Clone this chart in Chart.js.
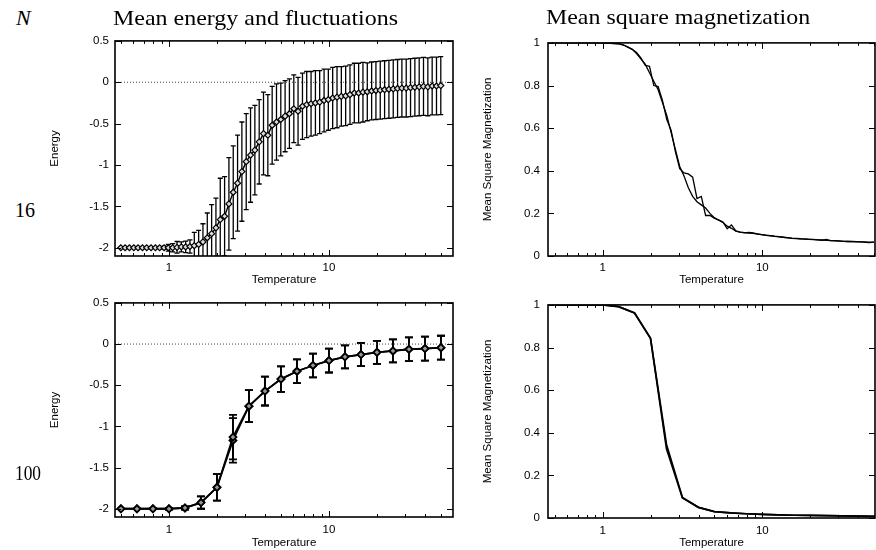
<!DOCTYPE html>
<html>
<head>
<meta charset="utf-8">
<script src="https://cdn.jsdelivr.net/npm/chart.js@4.4.1/dist/chart.umd.min.js"></script>
<style>
html, body { margin: 0; padding: 0; background: #fff; }
body { width: 876px; height: 550px; position: relative; overflow: hidden; }
canvas { position: absolute; }
.lbl { position: absolute; font-family: 'Liberation Serif', 'Times New Roman', serif; color: #000;
       white-space: nowrap; line-height: 1; transform-origin: 0 0; }
</style>
</head>
<body>
<canvas id="tl" width="420" height="262" style="left:40px;top:28px"></canvas>
<canvas id="tr" width="416" height="262" style="left:460px;top:28px"></canvas>
<canvas id="bl" width="420" height="260" style="left:40px;top:290px"></canvas>
<canvas id="br" width="416" height="260" style="left:460px;top:290px"></canvas>

<span class="lbl" style="left:16px;top:7px;font-size:22px;font-style:italic">N</span>
<span class="lbl" data-w="285" style="left:113px;top:8px;font-size:21px">Mean energy and fluctuations</span>
<span class="lbl" data-w="264" style="left:546px;top:7px;font-size:21px">Mean square magnetization</span>
<span class="lbl" data-w="20" style="left:15px;top:200px;font-size:20px">16</span>
<span class="lbl" data-w="26" style="left:15px;top:463px;font-size:20px">100</span>

<script>
// --- N = 16 : many temperatures ---
const tempsN16 = [0.5, 0.532, 0.566, 0.603, 0.641, 0.683, 0.726, 0.773, 0.823, 0.875, 0.932, 0.991,
    1.055, 1.123, 1.195, 1.272, 1.353, 1.44, 1.533, 1.631, 1.736, 1.848, 1.966, 2.092, 2.227, 2.37,
    2.522, 2.684, 2.856, 3.04, 3.235, 3.443, 3.664, 3.899, 4.15, 4.416, 4.7, 5.0, 5.32, 5.66, 6.03,
    6.41, 6.83, 7.26, 7.73, 8.23, 8.75, 9.32, 9.91, 10.55, 11.23, 11.95, 12.72, 13.53, 14.4, 15.33,
    16.31, 17.36, 18.48, 19.66, 20.92, 22.27, 23.7, 25.22, 26.84, 28.56, 30.4, 32.35, 34.43, 36.64,
    38.99, 41.5, 44.16, 47.0, 50.0];

const energyN16 = [-2, -2, -2, -2, -2, -2, -2, -2, -2, -2, -2, -2,
    -2, -1.995, -1.99, -1.99, -1.985, -1.975, -1.96, -1.93, -1.88, -1.83, -1.76, -1.66, -1.62, -1.47,
    -1.33, -1.22, -1.08, -0.96, -0.88, -0.82, -0.72, -0.62, -0.64, -0.52, -0.48, -0.45, -0.41, -0.38, -0.32,
    -0.35, -0.29, -0.27, -0.26, -0.25, -0.24, -0.22, -0.21, -0.19, -0.18, -0.17, -0.165, -0.15, -0.13, -0.13,
    -0.12, -0.115, -0.105, -0.1, -0.095, -0.09, -0.085, -0.08, -0.075, -0.07, -0.07, -0.065, -0.06, -0.055,
    -0.05, -0.055, -0.045, -0.045, -0.04];

const energyErrN16 = [0.005, 0.005, 0.005, 0.005, 0.005, 0.005, 0.005, 0.005, 0.005, 0.005, 0.02, 0.04,
    0.05, 0.07, 0.06, 0.07, 0.08, 0.16, 0.17, 0.22, 0.3, 0.35, 0.36, 0.5, 0.48, 0.56,
    0.56, 0.58, 0.6, 0.58, 0.57, 0.54, 0.51, 0.5, 0.49, 0.47, 0.46, 0.44, 0.43, 0.42, 0.41,
    0.41, 0.4, 0.4, 0.39, 0.39, 0.38, 0.38, 0.37, 0.37, 0.37, 0.36, 0.36, 0.36, 0.36, 0.36,
    0.36, 0.35, 0.35, 0.35, 0.35, 0.35, 0.35, 0.35, 0.35, 0.35, 0.35, 0.35, 0.35, 0.35,
    0.35, 0.35, 0.35, 0.35, 0.35];

const magN16a = [1, 1, 1, 1, 1, 1, 1, 1, 1, 1, 1, 1,
    0.999, 0.998, 0.997, 0.995, 0.99, 0.98, 0.97, 0.95, 0.925, 0.9, 0.86, 0.82, 0.78, 0.72,
    0.66, 0.58, 0.5, 0.42, 0.375, 0.32, 0.28, 0.255, 0.24, 0.225, 0.2, 0.18, 0.168, 0.158, 0.14,
    0.13, 0.117, 0.112, 0.11, 0.108, 0.106, 0.103, 0.1, 0.097, 0.095, 0.092, 0.09, 0.088, 0.085, 0.083,
    0.082, 0.08, 0.079, 0.078, 0.077, 0.076, 0.075, 0.073, 0.072, 0.071, 0.07, 0.069, 0.068, 0.068,
    0.067, 0.066, 0.066, 0.065, 0.065];

const magN16b = [1, 1, 1, 1, 1, 1, 1, 1, 1, 1, 1, 1,
    0.999, 0.998, 0.997, 0.995, 0.99, 0.98, 0.97, 0.955, 0.93, 0.895, 0.89, 0.8, 0.795, 0.73,
    0.64, 0.59, 0.49, 0.41, 0.39, 0.385, 0.37, 0.27, 0.28, 0.19, 0.19, 0.178, 0.17, 0.16, 0.128,
    0.146, 0.118, 0.112, 0.109, 0.111, 0.108, 0.104, 0.1, 0.098, 0.096, 0.093, 0.091, 0.088, 0.086, 0.084,
    0.083, 0.081, 0.08, 0.078, 0.078, 0.076, 0.074, 0.078, 0.072, 0.072, 0.071, 0.069, 0.068, 0.067,
    0.066, 0.066, 0.064, 0.063, 0.065];

// --- N = 100 : coarse temperatures ---
const tempsN100 = [0.501, 0.631, 0.794, 1.0, 1.259, 1.585, 1.995, 2.512, 3.162, 3.981, 5.012,
    6.31, 7.943, 10.0, 12.59, 15.85, 19.95, 25.12, 31.62, 39.81, 50.12];
const energyN100a = [-2, -2, -2, -2, -1.99, -1.925, -1.74, -1.13, -0.754, -0.571, -0.425,
    -0.33, -0.26, -0.2, -0.155, -0.127, -0.1, -0.083, -0.063, -0.055, -0.044];
const energyN100b = [-2, -2, -2, -2, -1.99, -1.925, -1.74, -1.17, -0.754, -0.571, -0.425,
    -0.33, -0.26, -0.2, -0.155, -0.127, -0.1, -0.083, -0.063, -0.055, -0.044];
const energyErrN100 = [0, 0, 0.003, 0.01, 0.02, 0.075, 0.16, 0.27, 0.195, 0.175, 0.155,
    0.145, 0.145, 0.145, 0.14, 0.14, 0.14, 0.14, 0.145, 0.145, 0.145];
const magN100a = [1, 1, 1, 1, 0.992, 0.962, 0.843, 0.345, 0.096, 0.05, 0.03,
    0.024, 0.02, 0.017, 0.015, 0.013, 0.012, 0.011, 0.01, 0.009, 0.008];
const magN100b = [1, 1, 1, 1, 0.992, 0.962, 0.843, 0.325, 0.094, 0.05, 0.03,
    0.024, 0.02, 0.017, 0.015, 0.013, 0.012, 0.011, 0.01, 0.009, 0.008];

// --- axes ---
const xTickVals = [1, 10];
const xMinorTicks = [0.5, 0.6, 0.7, 0.8, 0.9, 2, 3, 4, 5, 6, 7, 8, 9, 20, 30, 40, 50];
const energyTicks = [-2, -1.5, -1, -0.5, 0, 0.5];
const magTicks = [0, 0.2, 0.4, 0.6, 0.8, 1];
const energyRange = [-2.1, 0.5];
const magRange = [0, 1];
const xRangeLeft = [0.46, 59.6];
const xRangeRight = [0.455, 50.8];

Chart.defaults.font.family = "'Liberation Sans', Arial, sans-serif";
Chart.defaults.font.size = 11.5;
Chart.defaults.color = '#000';

function pts(xs, ys) {
    return xs.map((t, i) => ({ x: t, y: ys[i] }));
}

// barras de erro desenhadas por baixo das linhas
function makeErrBars(sets) {
    return {
        id: 'errBars',
        beforeDatasetsDraw(chart) {
            const { ctx, chartArea: a, scales: { x, y } } = chart;
            ctx.save();
            ctx.beginPath();
            ctx.rect(a.left, a.top, a.right - a.left, a.bottom - a.top);
            ctx.clip();
            ctx.strokeStyle = '#000';
            sets.forEach(s => {
                ctx.lineWidth = s.width;
                ctx.beginPath();
                s.xs.forEach((t, i) => {
                    const px = x.getPixelForValue(t);
                    const lo = y.getPixelForValue(s.mean[i] - s.err[i]);
                    const hi = y.getPixelForValue(s.mean[i] + s.err[i]);
                    ctx.moveTo(px, lo); ctx.lineTo(px, hi);
                    ctx.moveTo(px - s.cap, lo); ctx.lineTo(px + s.cap, lo);
                    ctx.moveTo(px - s.cap, hi); ctx.lineTo(px + s.cap, hi);
                });
                ctx.stroke();
            });
            ctx.restore();
        }
    };
}

// moldura estilo gnuplot com ticks para dentro
function makeFrame(yTicks) {
    return {
        id: 'gpFrame',
        afterDraw(chart) {
            const { ctx, chartArea: a, scales: { x, y } } = chart;
            ctx.save();
            ctx.strokeStyle = '#000';
            ctx.lineWidth = 1;
            ctx.beginPath();
            const xTick = (v, len) => {
                if (v < x.min || v > x.max) return;
                const px = Math.round(x.getPixelForValue(v)) + 0.5;
                ctx.moveTo(px, a.bottom); ctx.lineTo(px, a.bottom - len);
                ctx.moveTo(px, a.top); ctx.lineTo(px, a.top + len);
            };
            xTickVals.forEach(v => xTick(v, 6));
            xMinorTicks.forEach(v => xTick(v, 3));
            yTicks.forEach(v => {
                const py = Math.round(y.getPixelForValue(v)) + 0.5;
                ctx.moveTo(a.left, py); ctx.lineTo(a.left + 6, py);
                ctx.moveTo(a.right, py); ctx.lineTo(a.right - 6, py);
            });
            ctx.stroke();
            ctx.lineWidth = 1.6;
            ctx.strokeRect(a.left, a.top, a.right - a.left, a.bottom - a.top);
            ctx.restore();
        }
    };
}

function panel(id, cfg) {
    return new Chart(document.getElementById(id), {
        type: 'line',
        data: { datasets: cfg.datasets },
        options: {
            responsive: false,
            animation: false,
            events: [],
            layout: { padding: { top: 9, right: cfg.padRight, left: 0, bottom: 0 } },
            plugins: { legend: { display: false }, tooltip: { enabled: false } },
            scales: {
                x: {
                    type: 'logarithmic',
                    min: cfg.xRange[0],
                    max: cfg.xRange[1],
                    grid: { display: false, drawTicks: false },
                    border: { display: false },
                    afterBuildTicks: s => { s.ticks = xTickVals.map(v => ({ value: v })); },
                    afterFit: s => { s.height = cfg.xHeight; },
                    ticks: { padding: cfg.xTickPad, maxRotation: 0, autoSkip: false, callback: v => String(v) },
                    title: { display: true, text: 'Temperature', font: { size: 11.5 },
                             padding: { top: 0, bottom: cfg.xTitlePad } }
                },
                y: {
                    type: 'linear',
                    min: cfg.yRange[0],
                    max: cfg.yRange[1],
                    grid: { display: false, drawTicks: false },
                    border: { display: false },
                    afterBuildTicks: s => { s.ticks = cfg.yTicks.map(v => ({ value: v })); },
                    afterFit: s => { s.width = cfg.yWidth; },
                    ticks: { padding: cfg.yTickPad, autoSkip: false, callback: v => String(v) },
                    title: { display: true, text: cfg.yTitle, font: { size: 11.5 },
                             padding: { top: cfg.yTitlePad, bottom: 0 } }
                }
            }
        },
        plugins: [makeErrBars(cfg.errSets || []), makeFrame(cfg.yTicks)]
    });
}

function zeroLine(range) {
    return { data: [{ x: range[0], y: 0 }, { x: range[1], y: 0 }], borderColor: '#444',
             borderWidth: 1, borderDash: [1, 2], pointRadius: 0 };
}

// --- Energia N=16 ---
panel('tl', {
    xRange: xRangeLeft, yRange: energyRange, yTicks: energyTicks, yTitle: 'Energy',
    padRight: 7, yWidth: 75, xHeight: 34, xTickPad: 5, xTitlePad: 3, yTickPad: 6, yTitlePad: 8,
    datasets: [
        { data: pts(tempsN16, energyN16), borderColor: '#000', borderWidth: 1.4, tension: 0,
          pointStyle: 'rectRot', pointRadius: 3, pointBackgroundColor: '#ddd',
          pointBorderColor: '#000', pointBorderWidth: 1.2 },
        zeroLine(xRangeLeft)
    ],
    errSets: [{ xs: tempsN16, mean: energyN16, err: energyErrN16, cap: 2.5, width: 1.3 }]
});

// --- Magnetizacao N=16 ---
panel('tr', {
    xRange: xRangeRight, yRange: magRange, yTicks: magTicks, yTitle: 'Mean Square Magnetization',
    padRight: 1, yWidth: 88, xHeight: 34, xTickPad: 5, xTitlePad: 3, yTickPad: 8, yTitlePad: 21,
    datasets: [
        { data: pts(tempsN16, magN16a), borderColor: '#000', borderWidth: 1.3, tension: 0, pointRadius: 0 },
        { data: pts(tempsN16, magN16b), borderColor: '#000', borderWidth: 1.3, tension: 0, pointRadius: 0 }
    ]
});

// --- Energia N=100 ---
panel('bl', {
    xRange: xRangeLeft, yRange: energyRange, yTicks: energyTicks, yTitle: 'Energy',
    padRight: 7, yWidth: 75, xHeight: 33, xTickPad: 6, xTitlePad: 0, yTickPad: 6, yTitlePad: 8,
    datasets: [
        { data: pts(tempsN100, energyN100a), borderColor: '#000', borderWidth: 1.8, tension: 0,
          pointStyle: 'rectRot', pointRadius: 3.5, pointBackgroundColor: '#999',
          pointBorderColor: '#000', pointBorderWidth: 1.8 },
        { data: pts(tempsN100, energyN100b), borderColor: '#000', borderWidth: 1.8, tension: 0,
          pointStyle: 'rectRot', pointRadius: 3.5, pointBackgroundColor: '#999',
          pointBorderColor: '#000', pointBorderWidth: 1.8 },
        zeroLine(xRangeLeft)
    ],
    errSets: [
        { xs: tempsN100, mean: energyN100a, err: energyErrN100, cap: 4, width: 1.8 },
        { xs: tempsN100, mean: energyN100b, err: energyErrN100, cap: 4, width: 1.8 }
    ]
});

// --- Magnetizacao N=100 ---
panel('br', {
    xRange: xRangeRight, yRange: magRange, yTicks: magTicks, yTitle: 'Mean Square Magnetization',
    padRight: 1, yWidth: 88, xHeight: 32, xTickPad: 6, xTitlePad: 0, yTickPad: 8, yTitlePad: 21,
    datasets: [
        { data: pts(tempsN100, magN100a), borderColor: '#000', borderWidth: 1.7, tension: 0, pointRadius: 0 },
        { data: pts(tempsN100, magN100b), borderColor: '#000', borderWidth: 1.7, tension: 0, pointRadius: 0 }
    ]
});

// ajusta a largura dos rotulos em serif
document.querySelectorAll('[data-w]').forEach(el => {
    const k = Number(el.dataset.w) / el.getBoundingClientRect().width;
    el.style.transform = 'scaleX(' + k.toFixed(3) + ')';
});
</script>
</body>
</html>
